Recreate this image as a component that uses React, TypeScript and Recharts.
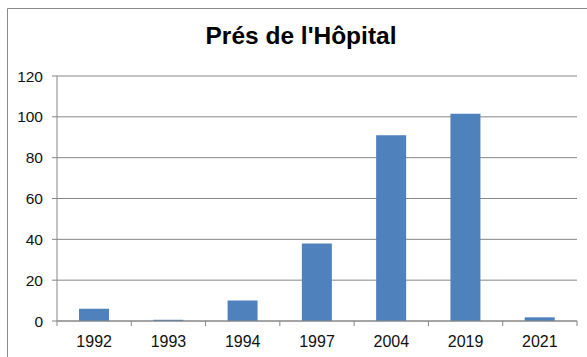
import React from "react";
import { BarChart, Bar, XAxis, YAxis, CartesianGrid } from "recharts";

// Counts per year
const years = ["1992", "1993", "1994", "1997", "2004", "2019", "2021"];
const counts = [6, 0.6, 10, 38, 91, 101.5, 1.8];
const yTicks = [0, 20, 40, 60, 80, 100, 120];
const title = "Prés de l'Hôpital";

const data = years.map((year, i) => ({ year, count: counts[i] }));

const W = 587;
const H = 357;
const MARGIN = { top: 76, right: 10, bottom: 6, left: 7 };
const Y_AXIS_W = 50;
const X_AXIS_H = 30;
const PLOT_W = W - MARGIN.left - MARGIN.right - Y_AXIS_W;
const STEP = PLOT_W / years.length;

const FONT = "'Liberation Sans', Arial, sans-serif";
const AXIS_COLOR = "#868686";
const BAR_COLOR = "#4F81BD";
const TEXT_COLOR = "#111";

// Category labels centred in each band; tick marks sit on the band boundaries
const XTick = (props: any) => {
  const { x, y, payload, index } = props;
  const left = x - STEP / 2;
  const right = x + STEP / 2;
  return (
    <g>
      <line x1={left} y1={y} x2={left} y2={y + 5} stroke={AXIS_COLOR} />
      {index === years.length - 1 && (
        <line x1={right} y1={y} x2={right} y2={y + 5} stroke={AXIS_COLOR} />
      )}
      <text
        x={x}
        y={y + 26}
        textAnchor="middle"
        fontFamily={FONT}
        fontSize={16}
        fill={TEXT_COLOR}
      >
        {payload.value}
      </text>
    </g>
  );
};

export default function App() {
  return (
    <div
      style={{
        position: "absolute",
        left: 0,
        top: 0,
        width: W,
        height: H,
        background: "#fff",
      }}
    >
      <svg
        width={W}
        height={H}
        style={{ position: "absolute", left: 0, top: 0 }}
      >
        <line x1={7.5} y1={8.5} x2={W} y2={8.5} stroke="#8a8a8a" />
        <line x1={7.5} y1={8.5} x2={7.5} y2={H} stroke="#8a8a8a" />
        <text
          x={301}
          y={44}
          textAnchor="middle"
          fontFamily={FONT}
          fontWeight="bold"
          fontSize={24.5}
          fill="#000"
        >
          {title}
        </text>
      </svg>
      <div style={{ position: "absolute", left: 0, top: 0 }}>
        <BarChart width={W} height={H} data={data} margin={MARGIN}>
          <CartesianGrid
            vertical={false}
            stroke={AXIS_COLOR}
            strokeDasharray=""
          />
          <XAxis
            dataKey="year"
            height={X_AXIS_H}
            tickLine={false}
            tickSize={0}
            tickMargin={0}
            axisLine={{ stroke: AXIS_COLOR }}
            tick={<XTick />}
            interval={0}
          />
          <YAxis
            width={Y_AXIS_W}
            domain={[0, 120]}
            ticks={yTicks}
            interval={0}
            tickSize={5}
            tickMargin={9}
            tickLine={{ stroke: AXIS_COLOR }}
            axisLine={{ stroke: AXIS_COLOR }}
            tick={{ fontFamily: FONT, fontSize: 15.5, fill: TEXT_COLOR }}
          />
          <Bar
            dataKey="count"
            fill={BAR_COLOR}
            barSize={30}
            isAnimationActive={false}
          />
        </BarChart>
      </div>
    </div>
  );
}
